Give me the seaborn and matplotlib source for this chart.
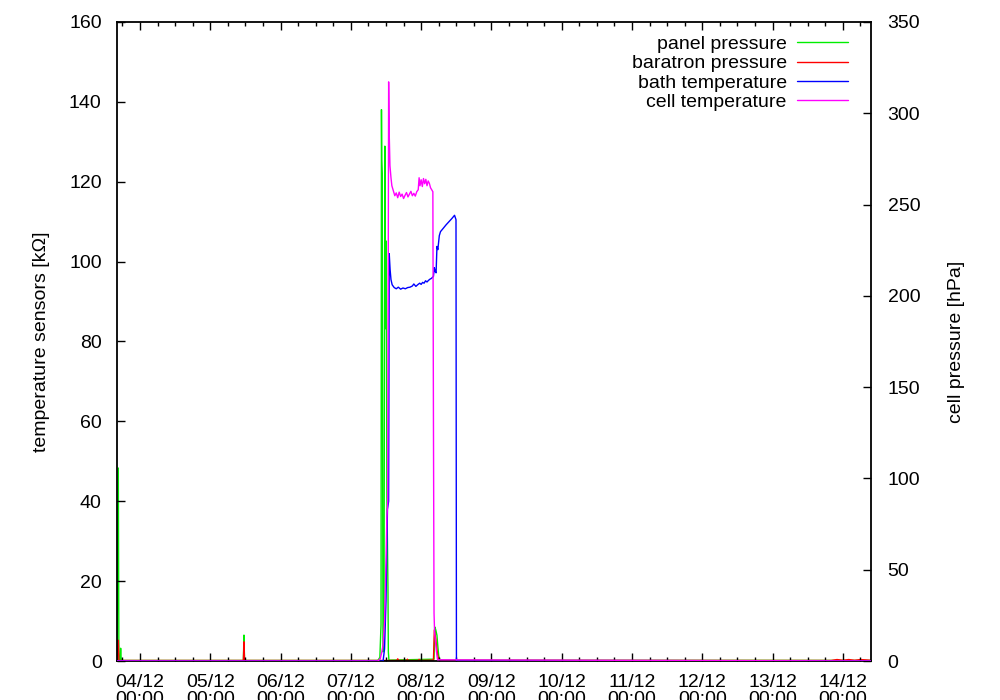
import numpy as np
import pandas as pd
import matplotlib
matplotlib.use("Agg")
import matplotlib.pyplot as plt
import matplotlib.dates as mdates
import seaborn as sns

# ---------------- data (hours since 04/12 00:00) ----------------
START = pd.Timestamp("2011-12-04 00:00")
X_FIRST_H = -7.85
X_LAST_H = 249.6

# cell temperature [kOhm] (left axis)
cell_h = [-7.85, 81.2, 82.0, 82.5, 83.0, 83.5, 84.0, 84.3, 84.6, 84.9, 85.1, 85.35,
          85.7, 86.0, 86.4, 87.0, 87.5, 88.0, 88.5, 89.0, 89.5, 90.0, 90.5, 91.0,
          91.5, 92.0, 92.5, 93.0, 93.5, 94.0, 94.5, 95.0, 95.3, 95.6, 96.0, 96.4,
          96.8, 97.2, 97.6, 98.0, 98.4, 98.8, 99.2, 99.6, 100.0, 100.2, 100.4,
          100.6, 100.9, 101.2, 101.6, 249.6]
cell_v = [0, 0, 0.5, 2, 4, 10, 25, 36, 40, 145, 132, 124,
          121, 119, 118, 116.5, 117.2, 116.0, 117.4, 116.3, 116.9, 115.8, 116.6, 117.3,
          116.2, 116.9, 117.6, 116.5, 117.1, 116.4, 117.5, 118.0, 121.0, 119.0, 120.5, 118.8,
          120.8, 119.5, 120.6, 119.0, 120.2, 119.6, 118.5, 118.0, 117.5, 60, 12,
          7, 5, 2.5, 0.3, 0]

# bath temperature [kOhm] (left axis)
bath_h = [-7.85, 83.0, 83.5, 84.0, 84.5, 84.9, 85.1, 85.4, 85.7, 86.1, 86.8, 87.5,
          88.2, 89.0, 89.8, 90.6, 91.4, 92.2, 93.0, 93.5, 94.2, 94.8, 95.5, 96.0,
          96.5, 97.0, 97.5, 98.0, 98.5, 99.0, 99.5, 100.2, 100.5, 100.8, 101.1, 101.4,
          101.7, 102.2, 102.6, 103.5, 104.5, 105.5, 106.5, 107.4, 107.9, 108.05, 249.6]
bath_v = [0, 0, 3, 15, 38, 40, 102, 98, 95.5, 94.2, 93.5, 93.2,
          93.6, 93.1, 93.4, 93.2, 93.5, 93.6, 93.9, 94.4, 93.8, 94.2, 94.6, 94.3,
          94.8, 94.6, 95.2, 94.9, 95.3, 95.6, 95.8, 96.3, 98.5, 97.5, 97.2, 103.8,
          103.0, 106.5, 107.5, 108.3, 109.2, 110.0, 110.8, 111.6, 110.5, 0, 0]

# panel pressure [hPa] (right axis)
panel_h = [-7.85, -7.4, -7.2, -6.8, -6.6, -6.4, 35.3, 35.5, 35.7, 81.2, 81.9, 82.3,
           82.45, 82.55, 82.7, 82.96, 83.3, 83.6, 83.75, 83.9, 84.1, 84.3, 84.67, 84.8,
           85.0, 100.4, 100.7, 101.0, 101.4, 101.7, 102.0, 102.4, 249.6]
panel_v = [0.3, 105.7, 0.5, 0.3, 7.0, 0.3, 0.3, 14.2, 0.3, 0.3, 2.0, 20.0,
           302.0, 274.0, 267.0, 5.0, 10.0, 282.0, 236.0, 182.0, 230.0, 90.0, 40.0, 5.0,
           0.5, 1.0, 18.6, 17.0, 14.0, 8.0, 3.0, 0.5, 0.3]

# baratron pressure [hPa] (right axis)
bara_h = [-7.85, -7.4, -7.2, 35.3, 35.5, 35.7, 82.0, 87.7, 88.0, 88.3, 91.0, 91.3,
          91.6, 95.0, 95.3, 95.6, 100.2, 100.5, 101.0, 101.4, 101.8, 102.4, 236.0,
          238.0, 240.0, 242.0, 244.0, 246.0, 249.6]
bara_v = [0.3, 11.4, 0.3, 0.3, 10.5, 0.3, 0.3, 0.3, 1.2, 0.3, 0.3, 1.0,
          0.3, 0.3, 0.9, 0.3, 0.5, 17.0, 12.0, 6.0, 2.0, 0.3, 0.3,
          0.8, 0.4, 0.8, 0.4, 0.8, 0.4]

# ---------------- style ----------------
sns.set_theme(style="white")
FS = 14
plt.rcParams["font.family"] = ["Liberation Sans", "DejaVu Sans"]
plt.rcParams.update({
    "font.size": FS, "xtick.labelsize": FS, "ytick.labelsize": FS,
    "axes.labelsize": FS, "legend.fontsize": FS,
    "axes.edgecolor": "black", "xtick.color": "black", "ytick.color": "black",
    "text.color": "black", "axes.labelcolor": "black",
})


def to_dt(hours):
    return START + pd.to_timedelta(np.asarray(hours, dtype=float), unit="h")


fig = plt.figure(figsize=(10, 7), dpi=100)
ax = fig.add_axes([0.117, 0.0557, 0.754, 0.9129])
ax2 = ax.twinx()
ax.set_zorder(ax2.get_zorder() + 1)
ax.patch.set_visible(False)

LW = 1.0
sns.lineplot(x=to_dt(panel_h), y=panel_v, ax=ax2, color="#00ee00", lw=LW,
             estimator=None, sort=False, legend=False)
h_panel = ax2.get_lines()[-1]
sns.lineplot(x=to_dt(bara_h), y=bara_v, ax=ax2, color="#ff0000", lw=LW,
             estimator=None, sort=False, legend=False)
h_bara = ax2.get_lines()[-1]
sns.lineplot(x=to_dt(bath_h), y=bath_v, ax=ax, color="#0000ff", lw=LW,
             estimator=None, sort=False, legend=False)
h_bath = ax.get_lines()[-1]
sns.lineplot(x=to_dt(cell_h), y=cell_v, ax=ax, color="#ff00ff", lw=LW,
             estimator=None, sort=False, legend=False)
h_cell = ax.get_lines()[-1]
for ln in ax.get_lines() + ax2.get_lines():
    ln.set_zorder(3)

ax.set_xlim(to_dt([X_FIRST_H])[0], to_dt([X_LAST_H])[0])
ax.set_ylim(0, 160)
ax2.set_ylim(0, 350)
ax.set_yticks(np.arange(0, 161, 20))
ax2.set_yticks(np.arange(0, 351, 50))

ax.xaxis.set_major_locator(mdates.DayLocator())
ax.xaxis.set_minor_locator(mdates.HourLocator(byhour=[0, 6, 12, 18]))
ax.xaxis.set_major_formatter(mdates.DateFormatter("%d/%m\n%H:%M"))

ax.tick_params(axis="x", which="major", direction="in", top=True, bottom=True,
               length=6, width=1, pad=9.5)
ax.tick_params(axis="x", which="minor", direction="in", top=True, bottom=True,
               length=3, width=1)
ax.tick_params(axis="y", which="major", direction="in", left=True, right=False,
               length=6, width=1, pad=11)
ax2.tick_params(axis="y", which="major", direction="in", right=True, left=False,
                length=6, width=1, pad=12)
ax2.tick_params(axis="x", which="both", bottom=False, top=False,
                labelbottom=False)
ax2.grid(False)
ax.grid(False)

for sp in ax.spines.values():
    sp.set_linewidth(1.3)
    sp.set_color("black")
for sp in ax2.spines.values():
    sp.set_visible(False)

ax.set_ylabel("temperature sensors [kΩ]", labelpad=14)
ax2.set_ylabel("cell pressure [hPa]", labelpad=20)
ax.set_xlabel("")

ax.legend([h_panel, h_bara, h_bath, h_cell],
          ["panel pressure", "baratron pressure", "bath temperature",
           "cell temperature"],
          loc="upper right", bbox_to_anchor=(0.9695, 0.979), frameon=False,
          markerfirst=False, handlelength=2.6, handletextpad=0.55,
          labelspacing=0.09, borderpad=0, borderaxespad=0, fontsize=FS)

fig.canvas.draw()
for lbl in ax.get_xticklabels():
    lbl.set_linespacing(1.0)

fig.savefig("out.png", dpi=100)
